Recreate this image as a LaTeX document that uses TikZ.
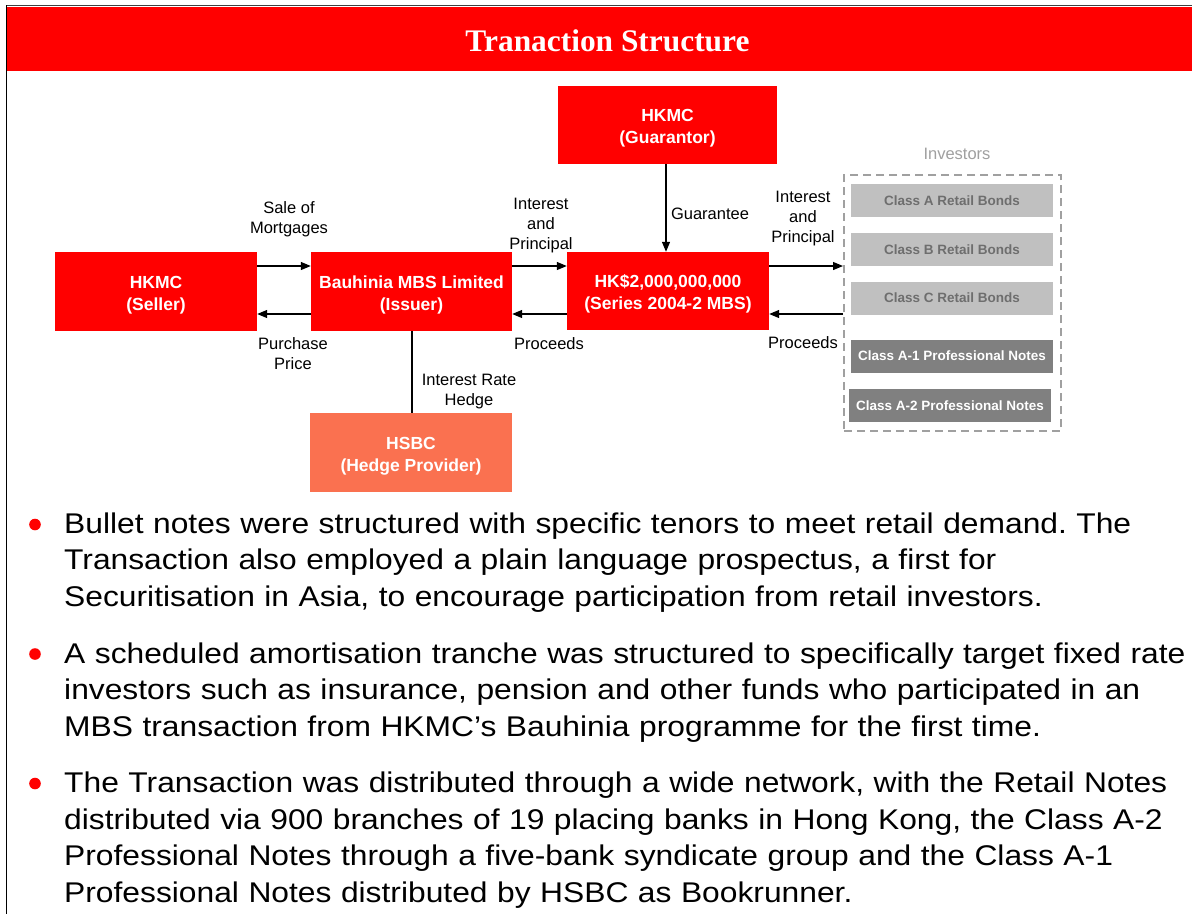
\documentclass[tikz,border=0pt]{standalone}
\usepackage{fontspec}
\setmainfont{Liberation Sans}
\newfontfamily\hdrfont{Liberation Serif}
\newfontfamily\bulfont[FakeStretch=1.115]{Liberation Sans}
\usetikzlibrary{arrows.meta}
\definecolor{hkred}{RGB}{255,0,0}
\definecolor{hedge}{RGB}{250,113,80}
\definecolor{lgray}{RGB}{192,192,192}
\definecolor{lgtext}{RGB}{110,110,110}
\definecolor{mgray}{RGB}{128,128,128}
\definecolor{dashgray}{RGB}{160,160,160}
\newcommand\boxstrut{\rule{0pt}{19pt}}
\frenchspacing
\begin{document}
\begin{tikzpicture}[x=1pt,y=-1pt,
  box/.style={rectangle, fill=hkred, text=white, font=\bfseries\fontsize{17.5}{22}\selectfont, align=center, inner sep=0pt, minimum width=202pt, minimum height=79pt},
  lbl/.style={font=\fontsize{16.5}{20}\selectfont, align=center, inner sep=0pt},
  arr/.style={-{Triangle[length=10pt,width=8pt]}, line width=1.2pt},
  cls/.style={rectangle, inner sep=0pt, minimum width=202pt, minimum height=33pt, font=\bfseries\fontsize{13.5}{16}\selectfont},
  bul/.style={anchor=base west, inner sep=0pt, text width=1128pt, align=left, font=\bulfont\fontsize{28.5}{36.7}\selectfont},
  dot/.style={fill=hkred}
]
\useasboundingbox (0,0) rectangle (1192,914);
\fill[white] (0,0) rectangle (1192,914);
% header
\fill[hkred] (7,7) rectangle (1192,70.5);
\draw[line width=1.5pt, black!75] (6,5.5) -- (1192,5.5);
\draw[line width=1.5pt] (6.5,5) -- (6.5,914);
\node[anchor=base, text=white, inner sep=0pt, font=\hdrfont\bfseries\fontsize{31.4}{36}\selectfont] (title) at (607.5,51) {Tranaction Structure};
% main boxes
\node[box] (seller) at (156,291.5) {\boxstrut HKMC\\(Seller)};
\node[box, minimum width=201pt] (issuer) at (411.5,291.5) {\boxstrut Bauhinia MBS Limited\\(Issuer)};
\node[box, minimum height=78pt] (mbs) at (668,291) {\boxstrut HK\$2,000,000,000\\(Series 2004-2 MBS)};
\node[box, minimum width=219pt, minimum height=78pt] (guar) at (667.5,125) {\boxstrut HKMC\\(Guarantor)};
\node[box, fill=hedge] (hsbc) at (411,452.5) {\boxstrut HSBC\\(Hedge Provider)};
% investors
\node[draw=dashgray, dash pattern=on 8pt off 5pt, line width=2pt, minimum width=217pt, minimum height=256pt, inner sep=0pt] (inv) at (952.5,303) {};
\node[lbl, text=dashgray] (invlbl) at (957,153.5) {Investors};
\node[cls, fill=lgray, text=lgtext] (ca) at (952,200.5) {Class A Retail Bonds};
\node[cls, fill=lgray, text=lgtext] (cb) at (952,249.5) {Class B Retail Bonds};
\node[cls, fill=lgray, text=lgtext] (cc) at (952,298) {Class C Retail Bonds};
\node[cls, fill=mgray, text=white] (ca1) at (952,356) {Class A-1 Professional Notes};
\node[cls, fill=mgray, text=white] (ca2) at (950,405.5) {Class A-2 Professional Notes};
% connectors
\draw[arr] (seller.east |- 0,266) -- (issuer.west |- 0,266);
\draw[arr] (issuer.west |- 0,314) -- (seller.east |- 0,314);
\draw[arr] (issuer.east |- 0,266) -- (mbs.west |- 0,266);
\draw[arr] (mbs.west |- 0,314) -- (issuer.east |- 0,314);
\draw[arr] (mbs.east |- 0,266) -- (inv.west |- 0,266);
\draw[arr] (inv.west |- 0,314) -- (mbs.east |- 0,314);
\draw[arr] (guar.south -| 666,0) -- (mbs.north -| 666,0);
\draw[line width=1.2pt] (issuer.south -| 412,0) -- (hsbc.north -| 412,0);
% labels
\node[lbl] (l1) at (289,219) {Sale of\\Mortgages};
\node[lbl] (l2) at (293,354) {Purchase\\Price};
\node[lbl] (l3) at (541,225.5) {Interest\\and\\Principal};
\node[lbl] (l4) at (549,344) {Proceeds};
\node[lbl] (l5) at (469,392) {Interest Rate\\Hedge};
\node[lbl] (l6) at (710,214) {Guarantee};
\node[lbl] (l7) at (803,218.5) {Interest\\and\\Principal};
\node[lbl] (l8) at (803,343) {Proceeds};
% bullets
\fill[dot] (35,524.5) circle (5.8pt);
\node[bul] (t1) at (64,533) {Bullet notes were structured with specific tenors to meet retail demand. The\\Transaction also employed a plain language prospectus, a first for\\Securitisation in Asia, to encourage participation from retail investors.};
\fill[dot] (35,654) circle (5.8pt);
\node[bul] (t2) at (64,663) {A scheduled amortisation tranche was structured to specifically target fixed rate\\investors such as insurance, pension and other funds who participated in an\\MBS transaction from HKMC’s Bauhinia programme for the first time.};
\fill[dot] (35,783.5) circle (5.8pt);
\node[bul] (t3) at (64,792.5) {The Transaction was distributed through a wide network, with the Retail Notes\\distributed via 900 branches of 19 placing banks in Hong Kong, the Class A-2\\Professional Notes through a five-bank syndicate group and the Class A-1\\Professional Notes distributed by HSBC as Bookrunner.};
\end{tikzpicture}
\end{document}
